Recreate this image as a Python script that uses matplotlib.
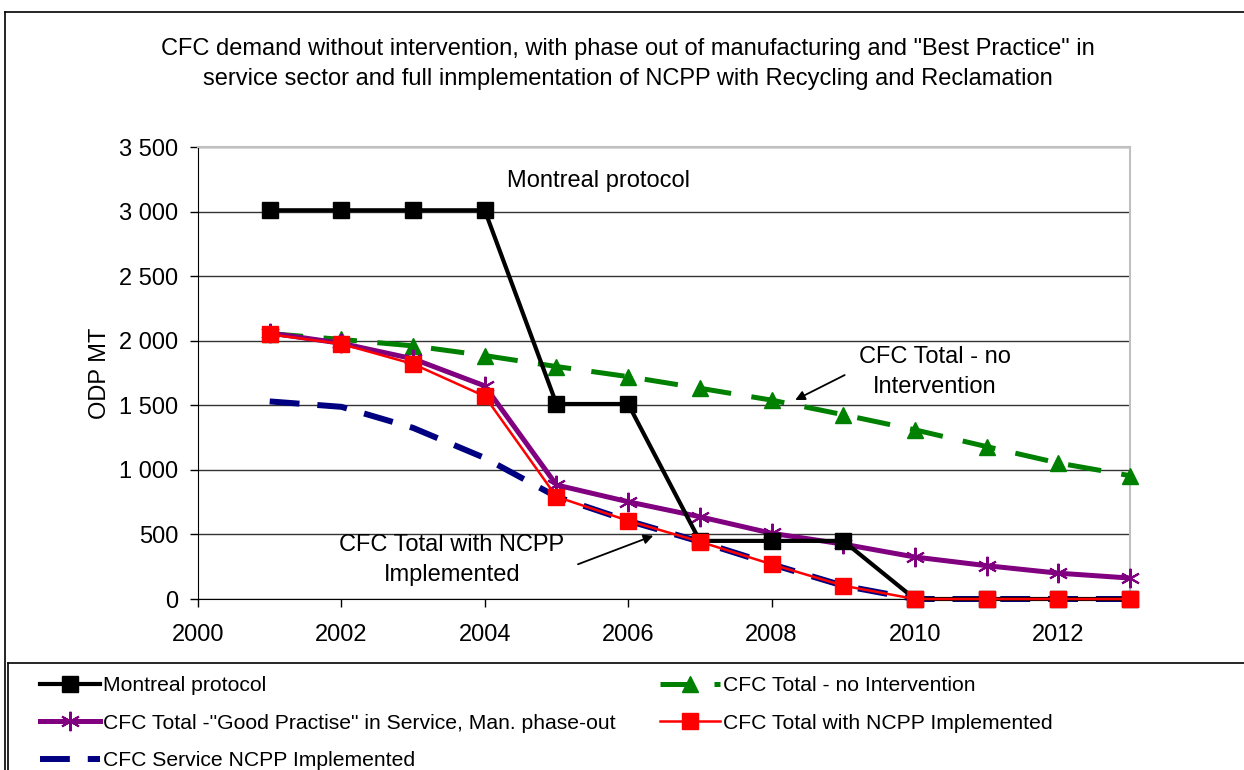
import matplotlib.pyplot as plt
from matplotlib.lines import Line2D
from matplotlib.ticker import FuncFormatter

plt.rcParams['font.family'] = ['Liberation Sans', 'DejaVu Sans']

# values (ODP MT)
years = [2001, 2002, 2003, 2004, 2005, 2006, 2007, 2008, 2009, 2010, 2011, 2012, 2013]
montreal = [3010, 3010, 3010, 3010, 1510, 1510, 450, 450, 450, 0, 0, 0, 0]
no_intervention = [2055, 2010, 1960, 1885, 1800, 1722, 1632, 1540, 1427, 1310, 1180, 1053, 955]
good_practise = [2060, 1980, 1860, 1650, 883, 753, 637, 509, 425, 325, 258, 200, 162]
ncpp_total = [2050, 1975, 1820, 1570, 792, 606, 444, 269, 103, 0, 0, 0, 0]
ncpp_service = [1530, 1488, 1325, 1092, 792, 606, 444, 269, 103, 0, 0, 0, 0]

labels = ['Montreal protocol', 'CFC Total - no Intervention',
          'CFC Total -"Good Practise" in Service, Man. phase-out',
          'CFC Total with NCPP Implemented', 'CFC Service NCPP Implemented']

W, H = 1244, 770
FS = 17

# line styles, shared by plot and legend
sty_mont = dict(color='black', lw=3, marker='s', ms=12)
sty_none = dict(color='#008000', lw=3.6, dashes=(6.7, 4.1), marker='^', ms=12)
sty_good = dict(color='#800080', lw=3.6, marker=(6, 2, 0), ms=14, mew=1.5)
sty_tot = dict(color='#ff0000', lw=1.8, marker='s', ms=11)
sty_serv = dict(color='#000080', lw=4.3, dashes=(5.0, 3.0))

fig = plt.figure(figsize=(W / 100, H / 100), dpi=100)
ax = fig.add_axes([198 / W, 1 - 599 / H, (1130 - 198) / W, (599 - 147) / H])

ax.plot(years, ncpp_service, zorder=3, clip_on=False, **sty_serv)
ax.plot(years, no_intervention, zorder=3, clip_on=False, **sty_none)
ax.plot(years, good_practise, zorder=4, clip_on=False, **sty_good)
ax.plot(years, montreal, zorder=5, clip_on=False, **sty_mont)
ax.plot(years, ncpp_total, zorder=6, clip_on=False, **sty_tot)

ax.set_xlim(2000, 2013)
ax.set_ylim(0, 3500)
ax.set_xticks(range(2000, 2013, 2))
ax.set_yticks(range(0, 3501, 500))
ax.yaxis.set_major_formatter(FuncFormatter(lambda v, p: f'{int(v):,}'.replace(',', ' ')))
ax.tick_params(labelsize=FS, length=5.8, width=1, direction='out', pad=8.6)
ax.tick_params(axis='x', pad=12)
ax.set_ylabel('ODP MT', fontsize=FS)
ax.yaxis.set_label_coords(-0.093, 0.5)
ax.grid(axis='y', color='#333333', lw=1)
ax.set_axisbelow(True)
for s in ['top', 'right']:
    ax.spines[s].set_color('#c0c0c0')
    ax.spines[s].set_linewidth(1.5)

ax.text(2005.58, 3237, 'Montreal protocol', fontsize=FS, ha='center', va='center')
ax.text(2010.28, 1758, 'CFC Total - no\nIntervention', fontsize=FS, ha='center',
        va='center', linespacing=1.45)
ax.text(2003.54, 302, 'CFC Total with NCPP\nImplemented', fontsize=FS, ha='center',
        va='center', linespacing=1.45)
arrow = dict(arrowstyle='-|>', color='black', lw=1.3, shrinkA=0, shrinkB=0, mutation_scale=14)
ax.annotate('', xy=(2008.33, 1541), xytext=(2009.02, 1734), arrowprops=arrow)
ax.annotate('', xy=(2006.35, 490), xytext=(2005.30, 269), arrowprops=arrow)

fig.text(628 / W, 1 - 64 / H,
         'CFC demand without intervention, with phase out of manufacturing and "Best Practice" in\n'
         'service sector and full inmplementation of NCPP with Recycling and Reclamation',
         fontsize=FS, ha='center', va='center', linespacing=1.45)

# outer chart frame and legend box
fig.add_artist(Line2D([5 / W, 1.0], [1 - 12 / H] * 2, color='black', lw=1.2))
fig.add_artist(Line2D([5 / W] * 2, [1 - 12 / H, 0], color='black', lw=1.2))
fig.add_artist(Line2D([8 / W, 1.0], [1 - 663 / H] * 2, color='black', lw=1.2))
fig.add_artist(Line2D([8 / W] * 2, [1 - 663 / H, 0], color='black', lw=1.2))

leg_kw = dict(loc='upper left', frameon=False, fontsize=15.2, handlelength=2.85,
              handletextpad=0.15, labelspacing=0.88, borderpad=0, borderaxespad=0)
h_mont = Line2D([], [], **sty_mont)
h_good = Line2D([], [], **sty_good)
h_serv = Line2D([], [], **sty_serv)
h_none = Line2D([], [], **sty_none)
h_tot = Line2D([], [], **sty_tot)
leg1 = fig.legend([h_mont, h_good, h_serv], [labels[0], labels[2], labels[4]],
                  bbox_to_anchor=(40 / W, 1 - 676 / H), **leg_kw)
leg2 = fig.legend([h_none, h_tot], [labels[1], labels[3]],
                  bbox_to_anchor=(660 / W, 1 - 676 / H), **leg_kw)

fig.savefig('out.png', dpi=100)
